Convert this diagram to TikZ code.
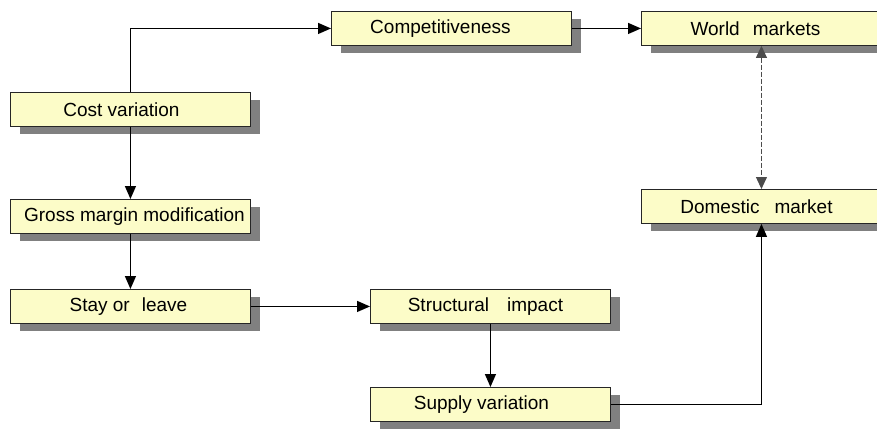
\documentclass[tikz,border=0pt]{standalone}
\usepackage{fontspec}
\setmainfont{Liberation Sans}
\usetikzlibrary{arrows.meta,shadows}
\definecolor{boxfill}{RGB}{252,252,200}
\definecolor{shadowgray}{RGB}{128,128,128}
\begin{document}
\begin{tikzpicture}[x=1pt,y=-1pt,
  stage/.style={draw=black!85, line width=0.9pt, fill=boxfill,
    minimum width=240pt, minimum height=34pt, inner sep=0pt,
    anchor=north west,
    drop shadow={shadow xshift=10pt, shadow yshift=-8pt,
      fill=shadowgray, opacity=1}},
  every label/.style={font=\fontsize{19}{22}\selectfont, inner sep=0pt},
  tip/.style={-{Triangle[length=13pt,width=11pt]}},
  link/.style={tip, line width=1.3pt},
  twoway/.style={{Triangle[length=12pt,width=11pt]}-{Triangle[length=12pt,width=11pt]},
    line width=1pt, dash pattern=on 5pt off 2pt, draw=black!70},
]
\useasboundingbox (0,0) rectangle (877,428);

% boxes
\node[stage, label={[xshift=-9pt]center:Cost variation}] (cost) at (10,92) {};
\node[stage, label={[xshift=4pt]center:Gross margin modification}] (gross) at (10,199) {};
\node[stage, label={[xshift=-2pt]center:Stay or\hspace{12pt}leave}] (stay) at (10,289) {};
\node[stage, label={[xshift=-11pt]center:Competitiveness}] (comp) at (331,11) {};
\node[stage, label={[xshift=-5pt]center:Structural\hspace{18pt}impact}] (struct) at (370,289) {};
\node[stage, label={[xshift=-9pt]center:Supply variation}] (supply) at (370,387) {};
\node[stage, label={[xshift=-6pt]center:World\hspace{13pt}markets}] (world) at (641,11) {};
\node[stage, label={[xshift=-5pt]center:Domestic\hspace{15pt}market}] (domestic) at (641,189) {};

% connectors
\draw[link] (cost.north) |- (comp.west);
\draw[link] (cost.south) -- (gross.north);
\draw[link] (gross.south) -- (stay.north);
\draw[link] (stay.east) -- (struct.west);
\draw[link] (struct.south) -- (supply.north);
\draw[link] (supply.east) -| (domestic.south);
\draw[link] (comp.east) -- (world.west);
\draw[twoway] (world.south) -- (domestic.north);
\end{tikzpicture}
\end{document}
